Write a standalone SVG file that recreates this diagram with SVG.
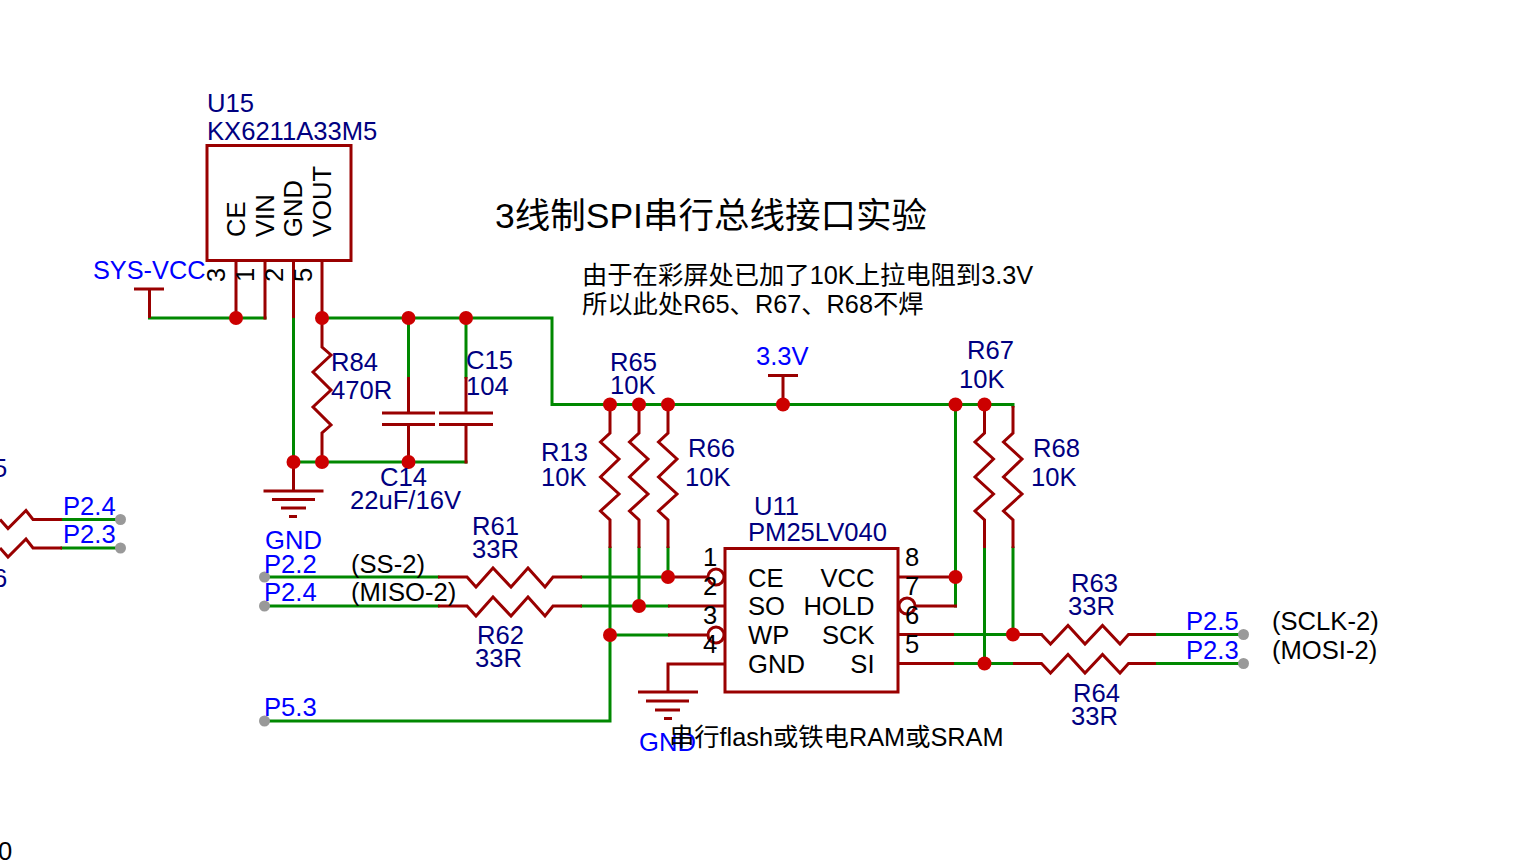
<svg xmlns="http://www.w3.org/2000/svg" width="1516" height="860" viewBox="0 0 1516 860">
<style>
text{font-family:"Liberation Sans","Noto Sans CJK SC",sans-serif;font-size:25.6px}
.n{fill:#000080}.l{fill:#0000ff}.k{fill:#000}
.e{text-anchor:end}
.t{font-size:35.5px}
.c{font-size:25.3px}
path,rect,circle.b{fill:none;stroke-linecap:butt;stroke-linejoin:miter}
.r{stroke:#990000;stroke-width:3}
.g{stroke:#008800;stroke-width:3;stroke-linecap:square}
.j{fill:#cc0000}.p{fill:#999999}
</style>
<rect width="1516" height="860" style="fill:#fff;stroke:none"/>
<g id="connectors">
<path class="g" d="M149.500 318H265M293.500 318V462H466M322 318H552V404.500H1013M1013 404.500V406M1013 548V634"/>
<path class="g" d="M408.500 318V377M466 318V377"/>
<path class="g" d="M264 577H438M582 577H668M668 548V577M264 606H438M582 606H668M639 548V606M610 548V721H264M610 635H668"/>
<path class="g" d="M955.500 404.500V606M954 634.500H1041M954 663.500H1013M984.500 548V663.500M1156 634.500H1243M1156 663.500H1243"/>
<path class="g" d="M62 519.500H120M62 548H120"/>
<path class="r" d="M236 261V318M265 261V319.500M293.500 261V318M322 261V347L331 355L313 372L331 390L313 407L331 425L322 433V462"/>
<path class="r" d="M149.500 287.500V318M134 289H164M293.500 462V491M263.500 491H323.500M272 499.500H315M281 508H306M289 516.500H297"/>
<path class="r" d="M408.500 377V413M382 413H435M382 424.500H435M408.500 424.500V462M466 377V413M439 413H493M439 424.500H493M466 424.500V463.500"/>
<path class="r" d="M610 404.500V433L600.500 442L619 459L600.500 477L619 494L600.500 511L610 520V548"/>
<path class="r" d="M639 404.500V433L629.500 442L648 459L629.500 477L648 494L629.500 511L639 520V548"/>
<path class="r" d="M668 404.500V433L658.500 442L677 459L658.500 477L677 494L658.500 511L668 520V548"/>
<path class="r" d="M984.500 404.500V433L975 442L993.500 459L975 477L993.500 494L975 511L984.500 520V548"/>
<path class="r" d="M1013 406V433L1003.500 442L1022 459L1003.500 477L1022 494L1003.500 511L1013 520V548"/>
<path class="r" d="M783 404.500V375.500M768 375.500H798"/>
<path class="r" d="M438 577H467L476 587L493 568L511 587L528 568L545 587L553 577H582"/>
<path class="r" d="M438 606H467L476 616L493 597L511 616L528 597L545 616L553 606H582"/>
<path class="r" d="M1013 634.500H1041.500L1050.500 644L1068 625.500L1085 644L1102.500 625.500L1120 644L1128.500 634.500H1156"/>
<path class="r" d="M1013 663.500H1041.500L1050.500 673L1068 654.500L1085 673L1102.500 654.500L1120 673L1128.500 663.500H1156"/>
<path class="r" d="M0 519.500L8 528.500L26 510.500L33 519.500H62"/>
<path class="r" d="M0 548L8 557L26 539L33 548H62"/>
<path class="r" d="M668 577H708M668 606H725M668 635H708M668 664H725M668 662.500V692M638 692H698M646 701H689M655 710H680M664 718.500H672"/>
<path class="r" d="M898 577H955M915 606H957M898 634.500H954M898 663.500H954"/>
</g>
<g id="junctions">
<circle class="j" cx="236" cy="318" r="7"/><circle class="j" cx="322" cy="318" r="7"/><circle class="j" cx="408.500" cy="318" r="7"/><circle class="j" cx="466" cy="318" r="7"/>
<circle class="j" cx="293.500" cy="462" r="7"/><circle class="j" cx="322" cy="462" r="7"/><circle class="j" cx="408.500" cy="462" r="7"/>
<circle class="j" cx="610" cy="404.500" r="7"/><circle class="j" cx="639" cy="404.500" r="7"/><circle class="j" cx="668" cy="404.500" r="7"/><circle class="j" cx="783" cy="404.500" r="7"/><circle class="j" cx="955.500" cy="404.500" r="7"/><circle class="j" cx="984.500" cy="404.500" r="7"/>
<circle class="j" cx="668" cy="577" r="7"/><circle class="j" cx="639" cy="606" r="7"/><circle class="j" cx="610" cy="635" r="7"/>
<circle class="j" cx="955.500" cy="577" r="7"/><circle class="j" cx="1013" cy="634.500" r="7"/><circle class="j" cx="984.500" cy="663.500" r="7"/>
<circle class="p" cx="120.500" cy="519.500" r="5.500"/><circle class="p" cx="120.500" cy="548" r="5.500"/>
<circle class="p" cx="264.500" cy="577" r="5.500"/><circle class="p" cx="264.500" cy="606" r="5.500"/><circle class="p" cx="264.500" cy="721" r="5.500"/>
<circle class="p" cx="1243.500" cy="634.500" r="5.500"/><circle class="p" cx="1243.500" cy="663.500" r="5.500"/>
</g>
<g id="U15">
<rect class="r" x="207" y="145.500" width="144" height="115"/>
<text class="n" x="207" y="111.500">U15</text><text class="n" x="207" y="140">KX6211A33M5</text>
<text class="k" transform="translate(245 237) rotate(-90)">CE</text>
<text class="k" transform="translate(273.500 237) rotate(-90)">VIN</text>
<text class="k" transform="translate(302 237) rotate(-90)">GND</text>
<text class="k" transform="translate(331 237) rotate(-90)">VOUT</text>
<text class="k" transform="translate(225 282) rotate(-90)">3</text>
<text class="k" transform="translate(254 282) rotate(-90)">1</text>
<text class="k" transform="translate(283 282) rotate(-90)">2</text>
<text class="k" transform="translate(311.500 282) rotate(-90)">5</text>
</g>
<g id="U11">
<rect class="r" x="725" y="548.500" width="173" height="143.500"/>
<circle class="b r" cx="716" cy="577" r="8"/><circle class="b r" cx="716" cy="635" r="8"/><circle class="b r" cx="907" cy="606" r="8"/>
<text class="n" x="754" y="515">U11</text><text class="n" x="748" y="541">PM25LV040</text>
<text class="k" x="703" y="566">1</text><text class="k" x="703" y="595">2</text><text class="k" x="703" y="624">3</text><text class="k" x="703" y="653">4</text>
<text class="k" x="905" y="566">8</text><text class="k" x="905" y="595">7</text><text class="k" x="905" y="624">6</text><text class="k" x="905" y="653">5</text>
<text class="k" x="748" y="587">CE</text><text class="k" x="748" y="615">SO</text><text class="k" x="748" y="644">WP</text><text class="k" x="748" y="673">GND</text>
<text class="k e" x="874.500" y="587">VCC</text><text class="k e" x="874.500" y="615">HOLD</text><text class="k e" x="874.500" y="644">SCK</text><text class="k e" x="874.500" y="673">SI</text>
</g>
<g id="labels">
<text class="k t" x="495" y="228">3线制SPI串行总线接口实验</text>
<text class="k c" x="582" y="284">由于在彩屏处已加了10K上拉电阻到3.3V</text>
<text class="k c" x="582" y="313">所以此处R65、R67、R68不焊</text>
<text class="l c" x="93" y="278.500">SYS-VCC</text>
<text class="n" x="331" y="371">R84</text><text class="n" x="331" y="399">470R</text>
<text class="n" x="466" y="368.500">C15</text><text class="n" x="466" y="394.500">104</text>
<text class="n" x="380" y="486">C14</text><text class="n" x="350" y="509">22uF/16V</text>
<text class="l" x="265" y="549">GND</text>
<text class="l" x="264" y="573">P2.2</text><text class="l" x="264" y="601">P2.4</text><text class="l" x="264" y="716">P5.3</text>
<text class="k" x="351" y="573">(SS-2)</text><text class="k" x="351" y="601">(MISO-2)</text>
<text class="n" x="472" y="535">R61</text><text class="n" x="472" y="558">33R</text>
<text class="n" x="477" y="644">R62</text><text class="n" x="475" y="667">33R</text>
<text class="l" x="63" y="515">P2.4</text><text class="l" x="63" y="543">P2.3</text>
<text class="n" x="-7" y="477">5</text><text class="n" x="-7" y="587">6</text><text class="k" x="-2" y="860">0</text>
<text class="n" x="610" y="371">R65</text><text class="n" x="610" y="394">10K</text>
<text class="l" x="756" y="365">3.3V</text>
<text class="n" x="967" y="359">R67</text><text class="n" x="959" y="388">10K</text>
<text class="n" x="541" y="461">R13</text><text class="n" x="541" y="486">10K</text>
<text class="n" x="688" y="457">R66</text><text class="n" x="685" y="486">10K</text>
<text class="n" x="1033" y="457">R68</text><text class="n" x="1031" y="486">10K</text>
<text class="l" x="639" y="751">GND</text>
<text class="k c" x="669" y="746">串行flash或铁电RAM或SRAM</text>
<text class="n" x="1071" y="592">R63</text><text class="n" x="1068" y="615">33R</text>
<text class="n" x="1073" y="702">R64</text><text class="n" x="1071" y="725">33R</text>
<text class="l" x="1186" y="630">P2.5</text><text class="l" x="1186" y="659">P2.3</text>
<text class="k" x="1272" y="630">(SCLK-2)</text><text class="k" x="1272" y="659">(MOSI-2)</text>
</g>
</svg>
